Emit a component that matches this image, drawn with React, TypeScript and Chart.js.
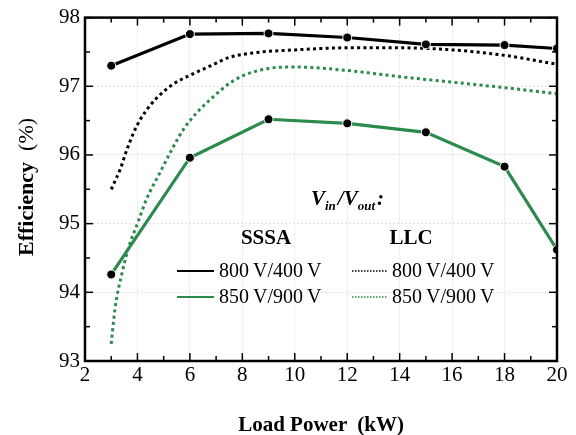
import React, { useEffect, useRef } from "react";
import { Chart, registerables } from "chart.js";

Chart.register(...registerables);

const FONT = "'Liberation Serif', 'Times New Roman', serif";
const GREEN = "#2b8a4c";

// SSSA measured points (kW, %)
const sssaX = [3, 6, 9, 12, 15, 18, 20];
const sssa800 = [97.3, 97.76, 97.77, 97.71, 97.61, 97.6, 97.55];
const sssa850 = [94.26, 95.96, 96.52, 96.46, 96.33, 95.83, 94.62];

// LLC curves
const llc800X = [3, 3.35, 3.6, 3.85, 4.1, 4.5, 4.9, 5.4, 6, 6.8, 7.5, 8.5, 10, 12, 14, 16, 18, 20];
const llc800 = [95.5, 95.8, 96.08, 96.32, 96.51, 96.73, 96.89, 97.04, 97.16, 97.3, 97.42, 97.49, 97.53, 97.56, 97.56, 97.53, 97.45, 97.32];
const llc850X = [3, 3.1, 3.2, 3.4, 3.65, 4, 4.35, 4.8, 5.3, 5.75, 6.25, 6.9, 7.5, 8, 9, 10, 12, 14, 16, 18, 20];
const llc850 = [93.25, 93.62, 93.9, 94.26, 94.64, 95.0, 95.36, 95.7, 96.07, 96.37, 96.61, 96.85, 97.04, 97.15, 97.26, 97.28, 97.23, 97.14, 97.06, 96.98, 96.89];

const xMajor = [2, 4, 6, 8, 10, 12, 14, 16, 18, 20];
const xMinor = [3, 5, 7, 9, 11, 13, 15, 17, 19];
const yMajor = [93, 94, 95, 96, 97, 98];
const yMinor = [93.5, 94.5, 95.5, 96.5, 97.5];

const legendLabels = ["800\u2009V/400\u2009V", "850\u2009V/900\u2009V"];
const legendHeaders = ["SSSA", "LLC"];

const pts = (xs: number[], ys: number[]) => xs.map((x, i) => ({ x, y: ys[i] }));

const framePlugin = {
  id: "frameAndLegend",
  afterDatasetsDraw(chart: any) {
    const { ctx, chartArea: a, scales } = chart;
    const xs = scales.x;
    const ys = scales.y;
    ctx.save();
    ctx.strokeStyle = "#000";
    ctx.lineWidth = 1.5;
    const seg = (x1: number, y1: number, x2: number, y2: number) => {
      ctx.beginPath();
      ctx.moveTo(x1, y1);
      ctx.lineTo(x2, y2);
      ctx.stroke();
    };
    xMajor.forEach((v) => {
      const p = xs.getPixelForValue(v);
      seg(p, a.bottom, p, a.bottom - 8);
      seg(p, a.top, p, a.top + 8);
    });
    xMinor.forEach((v) => {
      const p = xs.getPixelForValue(v);
      seg(p, a.bottom, p, a.bottom - 5);
      seg(p, a.top, p, a.top + 5);
    });
    yMajor.forEach((v) => {
      const p = ys.getPixelForValue(v);
      seg(a.left, p, a.left + 8, p);
      seg(a.right, p, a.right - 8, p);
    });
    yMinor.forEach((v) => {
      const p = ys.getPixelForValue(v);
      seg(a.left, p, a.left + 5, p);
      seg(a.right, p, a.right - 5, p);
    });
    ctx.lineWidth = 2.5;
    ctx.strokeRect(a.left, a.top, a.right - a.left, a.bottom - a.top);

    // Legend title V_in/V_out:
    ctx.fillStyle = "#000";
    ctx.textBaseline = "alphabetic";
    ctx.textAlign = "left";
    let cx = 311;
    const base = 205;
    const big = `italic bold 21px ${FONT}`;
    const small = `italic bold 13px ${FONT}`;
    const put = (t: string, f: string, dy: number) => {
      ctx.font = f;
      ctx.fillText(t, cx, base + dy);
      cx += ctx.measureText(t).width;
    };
    put("V", big, 0);
    put("in", small, 5);
    cx += 2;
    put("/", big, 0);
    put("V", big, 0);
    put("out", small, 5);
    cx += 2;
    put(":", big, 0);

    // Headers
    ctx.font = `bold 21px ${FONT}`;
    ctx.textAlign = "center";
    ctx.textBaseline = "middle";
    ctx.fillText(legendHeaders[0], 266, 239);
    ctx.fillText(legendHeaders[1], 411, 239);

    // Entries
    const rows = [271, 297];
    ctx.font = `20px ${FONT}`;
    ctx.textAlign = "left";
    rows.forEach((ry, i) => {
      const col = i === 0 ? "#000" : GREEN;
      ctx.strokeStyle = col;
      ctx.setLineDash([]);
      ctx.lineWidth = 2;
      seg(177, ry, 214, ry);
      ctx.setLineDash([1.5, 1.5]);
      ctx.lineWidth = 1.5;
      seg(352, ry, 388, ry);
      ctx.setLineDash([]);
      ctx.fillStyle = "#000";
      ctx.fillText(legendLabels[i], 219, ry + 1);
      ctx.fillText(legendLabels[i], 392, ry + 1);
    });

    // Axis titles
    ctx.textAlign = "left";
    ctx.textBaseline = "alphabetic";
    ctx.font = `bold 21px ${FONT}`;
    const t1 = "Load Power";
    const t2 = "(kW)";
    const w1 = ctx.measureText(t1).width;
    const w2 = ctx.measureText(t2).width;
    const gap = 10;
    const tw = w1 + gap + w2;
    const mx = (a.left + a.right) / 2;
    ctx.fillText(t1, mx - tw / 2, 431);
    ctx.fillText(t2, mx - tw / 2 + w1 + gap, 431);

    ctx.save();
    ctx.translate(33, 187);
    ctx.rotate(-Math.PI / 2);
    ctx.font = `bold 22px ${FONT}`;
    const e1 = "Efficiency";
    const ew1 = ctx.measureText(e1).width;
    ctx.font = `22px ${FONT}`;
    const e2 = "(%)";
    const ew2 = ctx.measureText(e2).width;
    const eg = 11;
    const etw = ew1 + eg + ew2;
    ctx.font = `bold 22px ${FONT}`;
    ctx.fillText(e1, -etw / 2, 0);
    ctx.font = `22px ${FONT}`;
    ctx.fillText(e2, -etw / 2 + ew1 + eg, 0);
    ctx.restore();

    ctx.restore();
  },
};

export default function App() {
  const ref = useRef<HTMLCanvasElement>(null);
  useEffect(() => {
    if (!ref.current) return;
    const chart = new Chart(ref.current, {
      type: "line",
      data: {
        datasets: [
          {
            label: "SSSA 800V/400V",
            data: pts(sssaX, sssa800),
            borderColor: "#000",
            borderWidth: 3.2,
            pointRadius: 4.5,
            pointBackgroundColor: "#000",
            pointBorderColor: "#fff",
            pointBorderWidth: 1,
            tension: 0,
          },
          {
            label: "SSSA 850V/900V",
            data: pts(sssaX, sssa850),
            borderColor: GREEN,
            borderWidth: 3.2,
            pointRadius: 4.5,
            pointBackgroundColor: "#000",
            pointBorderColor: "#fff",
            pointBorderWidth: 1,
            tension: 0,
          },
          {
            label: "LLC 800V/400V",
            data: pts(llc800X, llc800),
            borderColor: "#000",
            borderWidth: 3,
            borderDash: [3, 3.3],
            pointRadius: 0,
            cubicInterpolationMode: "monotone",
          },
          {
            label: "LLC 850V/900V",
            data: pts(llc850X, llc850),
            borderColor: GREEN,
            borderWidth: 3,
            borderDash: [3, 3.3],
            pointRadius: 0,
            cubicInterpolationMode: "monotone",
          },
        ],
      },
      options: {
        responsive: false,
        animation: false,
        devicePixelRatio: 1,
        layout: { padding: { top: 13, right: 19, left: 0, bottom: 0 } },
        plugins: { legend: { display: false }, tooltip: { enabled: false } },
        scales: {
          x: {
            type: "linear",
            min: 2,
            max: 20,
            afterFit: (s: any) => {
              s.height = 74;
            },
            ticks: {
              stepSize: 2,
              color: "#000",
              font: { family: FONT, size: 21 },
              padding: 2,
              maxRotation: 0,
            },
            grid: { color: "#e2e2e2", lineWidth: 1, drawTicks: false },
            border: { display: false, dash: [2, 2] },
          },
          y: {
            min: 93,
            max: 98,
            afterFit: (s: any) => {
              s.width = 85;
            },
            ticks: {
              stepSize: 1,
              color: "#000",
              font: { family: FONT, size: 21 },
              padding: 5,
            },
            grid: { color: "#e2e2e2", lineWidth: 1, drawTicks: false },
            border: { display: false, dash: [2, 2] },
          },
        },
      },
      plugins: [framePlugin],
    } as any);
    return () => chart.destroy();
  }, []);
  return (
    <div style={{ position: "fixed", left: 0, top: 0, width: 576, height: 435, background: "#fff" }}>
      <canvas ref={ref} width={576} height={435} />
    </div>
  );
}
